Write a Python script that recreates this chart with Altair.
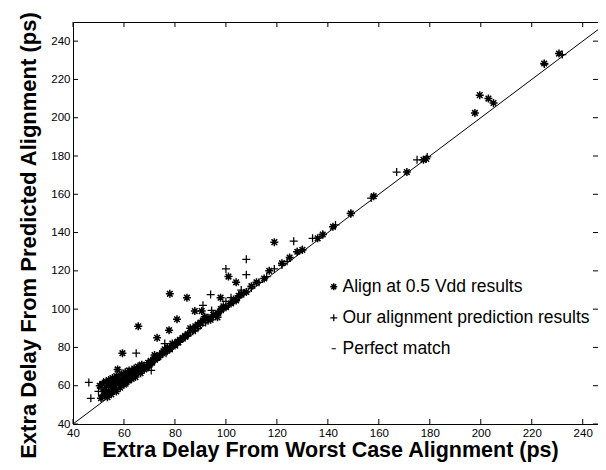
import altair as alt
import pandas as pd

# ---- data ----
ast_x = [50.5, 51, 51.5, 52, 52.5, 53, 53, 53.5, 54, 54, 54.5, 55, 55, 55.5, 56, 56, 56.5, 57, 57, 57.5,
         58, 58, 58.5, 59, 59.4, 59.5, 60, 60, 60.5, 61, 61, 61.5, 62, 62, 62.5, 63, 63, 63.5, 64, 64,
         64.5, 65, 65.6, 65.5, 66, 66.5, 67, 67, 68, 68, 69, 69.5, 70, 70.5, 71, 72, 72, 73, 73.5, 74,
         75, 75.5, 76, 77, 77.7, 78, 78, 79, 80, 80.8, 81, 82, 83, 84, 84.7, 85, 86, 87, 87.8, 88,
         89, 90, 90.5, 91, 91.7, 92, 93, 94, 95, 96.7, 97, 97.9, 98, 99, 100, 101, 102, 103, 104, 104,
         105, 106, 108, 110, 112, 115, 117, 119, 122, 125, 128, 130, 136, 138, 142, 149, 158, 171, 177.5, 178.6,
         197.7, 199.6, 203, 205, 224.9, 230.7]
ast_y = [60, 53.5, 61, 55, 58, 62, 56, 54, 60, 63, 57, 55.5, 61, 64, 58, 62, 60, 57, 65, 68.5,
         61, 63, 59, 66, 77, 62, 60.5, 64, 67, 62, 65, 63, 66, 68, 64, 63.5, 67, 65, 66, 69,
         64.5, 67, 91, 70, 68, 66.5, 69, 71, 68.5, 70, 70, 72, 71, 73, 72, 74, 76, 85, 75, 76,
         77, 78, 79, 80, 89, 108, 79, 82, 81, 94.7, 83, 84, 85, 86, 106, 87, 90, 89, 99, 91,
         92, 93, 99, 94, 96, 95, 95.5, 94.5, 97, 95.7, 98, 106, 100, 101.5, 101, 117, 103, 105, 114, 104.5,
         107, 108, 109, 112, 114, 116, 120, 135, 124, 127, 130, 131, 137, 139, 143, 150, 159, 171.6, 178, 178.5,
         202.5, 211.8, 210, 207.7, 228.3, 233.5]

plus_x = [46.2, 47, 50, 51, 51.5, 52, 52.5, 53, 53.5, 54, 54.5, 55, 55.5, 56, 56.5, 57, 57.5, 58, 58.5, 59,
          59.5, 60, 60.5, 61, 61.5, 62, 62.5, 63, 63.5, 64, 64.8, 65, 65.5, 66, 66.5, 67, 67.5, 68, 69, 69.5,
          70, 70.7, 71, 72, 73, 74, 75, 76, 76.5, 77, 78, 79, 80, 81, 82, 83, 84, 85, 86, 87,
          88, 89, 90, 91, 92, 93, 94, 94.4, 95, 96, 97, 98, 99, 100, 100, 101, 102, 103, 104, 105,
          106, 107, 108, 108, 110, 113, 116, 119, 122, 124, 126.6, 128, 130, 134, 138, 143, 149, 157, 167, 175,
          179, 225, 232]
plus_y = [61.7, 53.4, 57, 59, 55, 62, 57.5, 60, 56, 58, 62, 59.5, 57, 61, 63, 59, 62, 64, 60.5, 63,
          65, 62, 64, 66, 61.5, 64.5, 67, 65, 68, 65, 77, 66, 68, 70, 67.5, 68, 70, 69, 71, 69.5,
          70.5, 68, 73, 73, 74, 75, 76.5, 82, 77, 78, 80, 80, 82, 81.5, 83, 84.5, 85, 86, 88, 88.5,
          89, 90, 91.5, 102, 93, 94, 107.6, 99.3, 96, 97, 98.5, 99, 100, 104, 121, 102, 106, 104, 105, 106,
          110, 108, 118, 126, 111, 114, 117, 121, 123, 125, 135.5, 130, 131, 137, 139, 144, 150, 158, 171.6, 178,
          179.5, 228, 233]

line_x = [40, 250]
line_y = [40, 250]

x_ticks = [40, 60, 80, 100, 120, 140, 160, 180, 200, 220, 240]
y_ticks = [40, 60, 80, 100, 120, 140, 160, 180, 200, 220, 240]

series_names = ["Align at 0.5 Vdd results", "Our alignment prediction results", "Perfect match"]

# ---- tables ----
pts = pd.concat([
    pd.DataFrame({"x": ast_x, "y": ast_y, "series": series_names[0]}),
    pd.DataFrame({"x": plus_x, "y": plus_y, "series": series_names[1]}),
], ignore_index=True)
line_df = pd.DataFrame({"x": line_x, "y": line_y})
xt_df = pd.DataFrame({"x": x_ticks})
yt_df = pd.DataFrame({"y": y_ticks})

W, H = 525, 402
FONT = "Liberation Sans"
AST = "M-1,0L1,0M0,-1L0,1M-0.7,-0.7L0.7,0.7M-0.7,0.7L0.7,-0.7"
PLUS = "M-1,0L1,0M0,-1L0,1"
DASH = "M-0.6,0L0.6,0"

xscale = alt.Scale(domain=[40, 246], nice=False, zero=False)
yscale = alt.Scale(domain=[40, 250], nice=False, zero=False)

xaxis = alt.Axis(values=x_ticks, ticks=False, domain=False, grid=False, labelFlush=False,
                 labelFont=FONT, labelFontSize=11.5, labelColor="black", labelPadding=3,
                 title="Extra Delay From Worst Case Alignment (ps)", titleFont=FONT,
                 titleFontSize=21.5, titleFontWeight="bold", titleColor="black",
                 titleBaseline="alphabetic", titleX=257, titleY=32)
yaxis = alt.Axis(values=y_ticks, ticks=False, domain=False, grid=False, labelFlush=False,
                 labelFont=FONT, labelFontSize=11.5, labelColor="black", labelPadding=3,
                 title="Extra Delay From Predicted Alignment (ps)", titleFont=FONT,
                 titleFontSize=22, titleFontWeight="bold", titleColor="black",
                 titleX=-33, titleY=213)

X = alt.X("x:Q", scale=xscale, axis=xaxis)
Y = alt.Y("y:Q", scale=yscale, axis=yaxis)

points = alt.Chart(pts).mark_point(filled=False, color="black", opacity=1, size=64).encode(
    x=X, y=Y,
    shape=alt.Shape("series:N", scale=alt.Scale(domain=series_names, range=[AST, PLUS, DASH]),
                    legend=alt.Legend(orient="none", legendX=252, legendY=256, title=None,
                                      labelFont=FONT, labelFontSize=17.5, labelColor="black",
                                      labelLimit=0,
                                      symbolSize=49, symbolStrokeWidth=0.8, symbolStrokeColor="black",
                                      symbolFillColor="transparent",
                                      rowPadding=12, padding=0, labelOffset=0)),
    strokeWidth=alt.StrokeWidth("series:N", scale=alt.Scale(domain=series_names, range=[1.5, 1.0, 1.0]),
                                legend=None),
)

line = alt.Chart(line_df).mark_line(color="black", strokeWidth=1, clip=True).encode(x=X, y=Y)

bt = alt.Chart(xt_df).mark_rule(color="black", strokeWidth=1).encode(x=X, y=alt.value(H), y2=alt.value(H - 5))
tt = alt.Chart(xt_df).mark_rule(color="black", strokeWidth=1).encode(x=X, y=alt.value(0), y2=alt.value(5))
lt = alt.Chart(yt_df).mark_rule(color="black", strokeWidth=1).encode(y=Y, x=alt.value(0), x2=alt.value(5))
rt = alt.Chart(yt_df).mark_rule(color="black", strokeWidth=1).encode(y=Y, x=alt.value(W - 5), x2=alt.value(W))

chart = alt.layer(line, points, bt, tt, lt, rt).properties(
    width=W, height=H,
    padding={"left": 65, "top": 14, "right": 0, "bottom": 38},
    autosize=alt.AutoSizeParams(type="none"),
    background="white",
).configure_view(stroke="black", strokeWidth=1)

chart.save("out.html", embed_options={"renderer": "svg", "actions": False})
